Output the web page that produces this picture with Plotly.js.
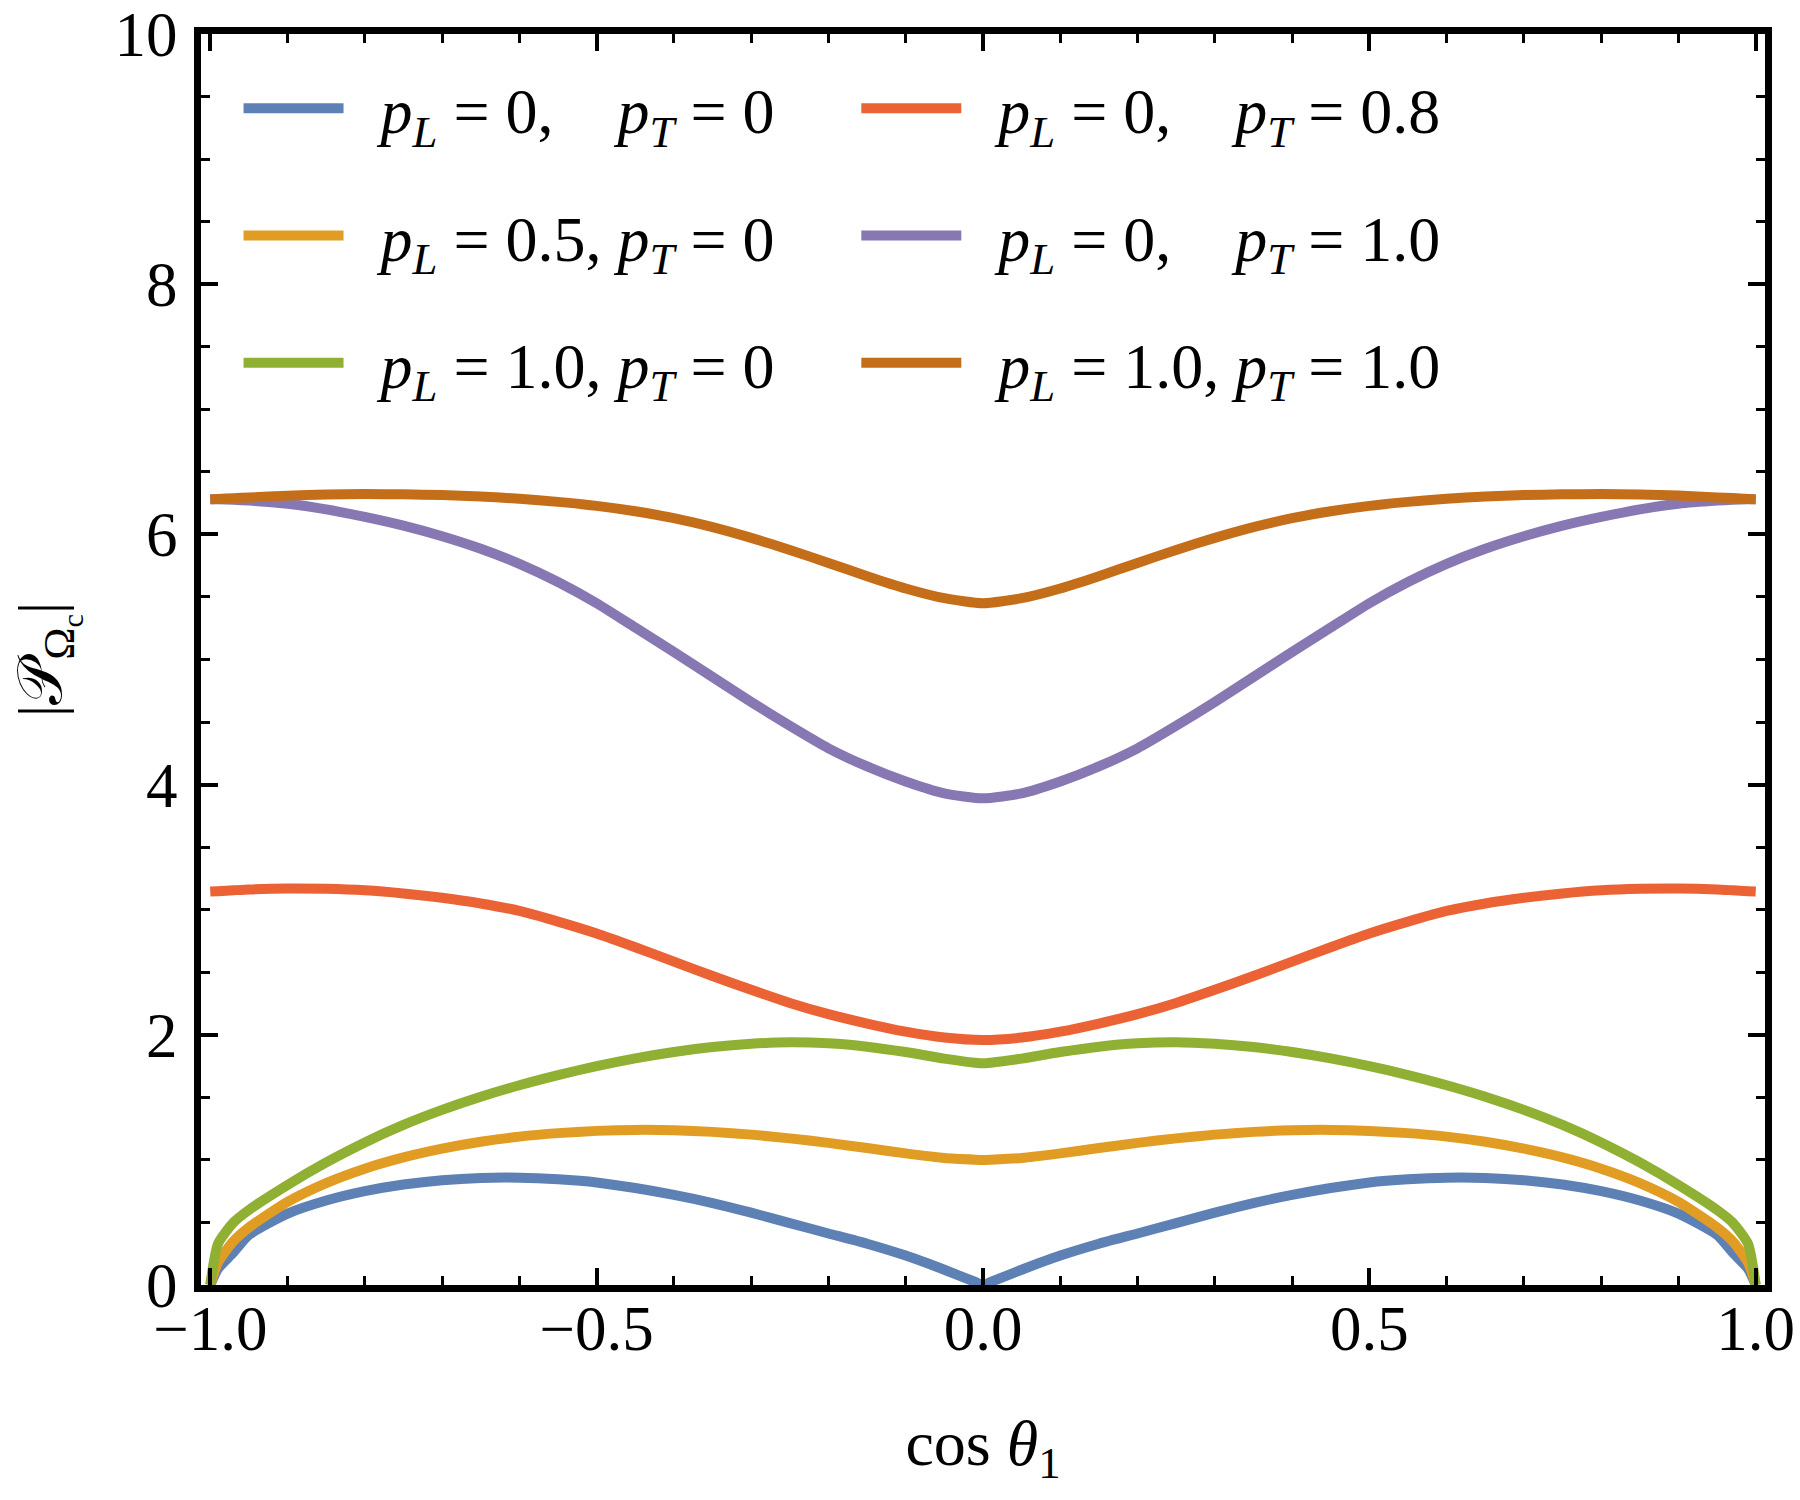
<!DOCTYPE html>
<html>
<head>
<meta charset="utf-8">
<script src="https://cdn.plot.ly/plotly-3.0.1.min.js"></script>
<style>html,body{margin:0;padding:0;background:#fff;}</style>
</head>
<body>
<div id="chart" style="width:1800px;height:1500px;"></div>
<script>
// cos(theta_1) sample points (coarse grid for the upper curves)
const cosTheta = [-1, -0.99, -0.97, -0.95, -0.9, -0.85, -0.8, -0.75, -0.7, -0.65, -0.6, -0.55, -0.5, -0.45, -0.4, -0.35, -0.3, -0.25, -0.2, -0.15, -0.1, -0.05, 0,
  0.05, 0.1, 0.15, 0.2, 0.25, 0.3, 0.35, 0.4, 0.45, 0.5, 0.55, 0.6, 0.65, 0.7, 0.75, 0.8, 0.85, 0.9, 0.95, 0.97, 0.99, 1];
// finer grid near the cusp at cos(theta_1) = 0 for the lower curves
const cosThetaFine = [-1, -0.99, -0.97, -0.95, -0.9, -0.85, -0.8, -0.75, -0.7, -0.65, -0.6, -0.55, -0.5, -0.45, -0.4, -0.35, -0.3, -0.25, -0.2, -0.15, -0.1, -0.05, -0.01, 0,
  0.01, 0.05, 0.1, 0.15, 0.2, 0.25, 0.3, 0.35, 0.4, 0.45, 0.5, 0.55, 0.6, 0.65, 0.7, 0.75, 0.8, 0.85, 0.9, 0.95, 0.97, 0.99, 1];

// |P_Omega_c| for each (pL, pT)
const pL0_pT0 = [0, 0.13, 0.26, 0.40, 0.57, 0.675, 0.75, 0.803, 0.838, 0.856, 0.858, 0.845, 0.82, 0.775, 0.72, 0.655, 0.578, 0.495, 0.412, 0.33, 0.235, 0.122, 0.024, 0,
  0.024, 0.122, 0.235, 0.33, 0.412, 0.495, 0.578, 0.655, 0.72, 0.775, 0.82, 0.845, 0.858, 0.856, 0.838, 0.803, 0.75, 0.675, 0.57, 0.40, 0.26, 0.13, 0];
const pL05_pT0 = [0, 0.18, 0.35, 0.46, 0.665, 0.815, 0.93, 1.02, 1.09, 1.145, 1.186, 1.214, 1.232, 1.24, 1.237, 1.224, 1.202, 1.172, 1.136, 1.095, 1.052, 1.015, 1.002, 1.0,
  1.002, 1.015, 1.052, 1.095, 1.136, 1.172, 1.202, 1.224, 1.237, 1.24, 1.232, 1.214, 1.186, 1.145, 1.09, 1.02, 0.93, 0.815, 0.665, 0.46, 0.35, 0.18, 0];
const pL10_pT0 = [0, 0.33, 0.50, 0.60, 0.80, 0.98, 1.14, 1.28, 1.40, 1.505, 1.597, 1.678, 1.75, 1.812, 1.863, 1.902, 1.928, 1.94, 1.932, 1.905, 1.862, 1.81, 1.777, 1.772,
  1.777, 1.81, 1.862, 1.905, 1.932, 1.94, 1.928, 1.902, 1.863, 1.812, 1.75, 1.678, 1.597, 1.505, 1.40, 1.28, 1.14, 0.98, 0.80, 0.60, 0.50, 0.33, 0];
const pL0_pT08 = [3.145, 3.148, 3.155, 3.162, 3.17, 3.167, 3.155, 3.13, 3.095, 3.05, 2.99, 2.905, 2.81, 2.70, 2.585, 2.47, 2.36, 2.255, 2.165, 2.09, 2.025, 1.978, 1.958,
  1.978, 2.025, 2.09, 2.165, 2.255, 2.36, 2.47, 2.585, 2.70, 2.81, 2.905, 2.99, 3.05, 3.095, 3.13, 3.155, 3.167, 3.17, 3.162, 3.155, 3.148, 3.145];
const pL0_pT10 = [6.28, 6.28, 6.277, 6.27, 6.245, 6.20, 6.14, 6.07, 5.985, 5.885, 5.765, 5.62, 5.45, 5.255, 5.06, 4.86, 4.66, 4.47, 4.29, 4.145, 4.025, 3.93, 3.89,
  3.93, 4.025, 4.145, 4.29, 4.47, 4.66, 4.86, 5.06, 5.255, 5.45, 5.62, 5.765, 5.885, 5.985, 6.07, 6.14, 6.20, 6.245, 6.27, 6.277, 6.28, 6.28];
const pL10_pT10 = [6.28, 6.283, 6.29, 6.295, 6.31, 6.318, 6.322, 6.32, 6.315, 6.303, 6.285, 6.26, 6.228, 6.185, 6.13, 6.058, 5.972, 5.876, 5.772, 5.666, 5.568, 5.49, 5.45,
  5.49, 5.568, 5.666, 5.772, 5.876, 5.972, 6.058, 6.13, 6.185, 6.228, 6.26, 6.285, 6.303, 6.315, 6.32, 6.322, 6.318, 6.31, 6.295, 6.29, 6.283, 6.28];

const lead = '\u2002';
const seriesNames = [
  lead + '<i>p</i><sub><i>L</i></sub> = 0,\u2003<i>p</i><sub><i>T</i></sub> = 0',
  lead + '<i>p</i><sub><i>L</i></sub> = 0.5, <i>p</i><sub><i>T</i></sub> = 0',
  lead + '<i>p</i><sub><i>L</i></sub> = 1.0, <i>p</i><sub><i>T</i></sub> = 0',
  lead + '<i>p</i><sub><i>L</i></sub> = 0,\u2003<i>p</i><sub><i>T</i></sub> = 0.8',
  lead + '<i>p</i><sub><i>L</i></sub> = 0,\u2003<i>p</i><sub><i>T</i></sub> = 1.0',
  lead + '<i>p</i><sub><i>L</i></sub> = 1.0, <i>p</i><sub><i>T</i></sub> = 1.0'
];
const seriesX = [cosThetaFine, cosThetaFine, cosThetaFine, cosTheta, cosTheta, cosTheta];
const seriesValues = [pL0_pT0, pL05_pT0, pL10_pT0, pL0_pT08, pL0_pT10, pL10_pT10];
const seriesColors = ['#5E81B5', '#E19C24', '#8FB032', '#EB6235', '#8778B3', '#C56E1A'];
const legendOf = ['legend', 'legend', 'legend', 'legend2', 'legend2', 'legend2'];

const xTickVals = [-1, -0.5, 0, 0.5, 1];
const xTickText = ['\u22121.0', '\u22120.5', '0.0', '0.5', '1.0'];
const yTickVals = [0, 2, 4, 6, 8, 10];
const yTickText = ['0', '2', '4', '6', '8', '10'];

const serif = "'Liberation Serif', 'Times New Roman', serif";

const traces = seriesValues.map((v, i) => ({
  type: 'scatter', mode: 'lines',
  x: seriesX[i], y: v,
  name: seriesNames[i],
  legend: legendOf[i],
  legendgroup: 'g' + i,
  line: {color: seriesColors[i], width: 10, shape: 'spline', smoothing: 0.6},
  hoverinfo: 'skip'
}));

const axisCommon = {
  showgrid: false, zeroline: false,
  showline: true, linecolor: '#000', linewidth: 7, mirror: 'allticks',
  ticks: 'inside', ticklen: 17, tickwidth: 4, tickcolor: '#000',
  ticklabeloverflow: 'allow',
  tickfont: {family: serif, size: 63, color: '#000'},
};

const legendCommon = {
  font: {family: serif, size: 64, color: '#000'},
  bgcolor: 'rgba(0,0,0,0)', borderwidth: 0,
  xanchor: 'left', yanchor: 'top',
  traceorder: 'grouped', tracegroupgap: 41,
  itemwidth: 100
};

const layout = {
  width: 1800, height: 1500,
  margin: {l: 201, r: 35, t: 34, b: 215},
  paper_bgcolor: '#fff', plot_bgcolor: '#fff',
  showlegend: true,
  xaxis: Object.assign({}, axisCommon, {
    range: [-1.012, 1.012], tickvals: xTickVals, ticktext: xTickText,
    ticklabelstandoff: -18,
    minor: {dtick: 0.1, tick0: 0, ticks: 'inside', ticklen: 9, tickwidth: 3, tickcolor: '#000', showgrid: false},
    title: {text: 'cos <i>θ</i><sub>1</sub>', font: {family: serif, size: 64, color: '#000'}, standoff: 60}
  }),
  yaxis: Object.assign({}, axisCommon, {
    range: [0, 10], tickvals: yTickVals, ticktext: yTickText,
    ticklabelstandoff: 4,
    minor: {dtick: 0.5, tick0: 0, ticks: 'inside', ticklen: 9, tickwidth: 3, tickcolor: '#000', showgrid: false},
    title: {text: '|𝒫<sub>Ω<sub>c</sub></sub>|', font: {family: serif, size: 62, color: '#000'}, standoff: 35}
  }),
  legend: Object.assign({}, legendCommon, {x: 0.024, y: 0.979}),
  legend2: Object.assign({}, legendCommon, {x: 0.419, y: 0.979})
};

Plotly.newPlot('chart', traces, layout, {displayModeBar: false, staticPlot: true});
</script>
</body>
</html>
